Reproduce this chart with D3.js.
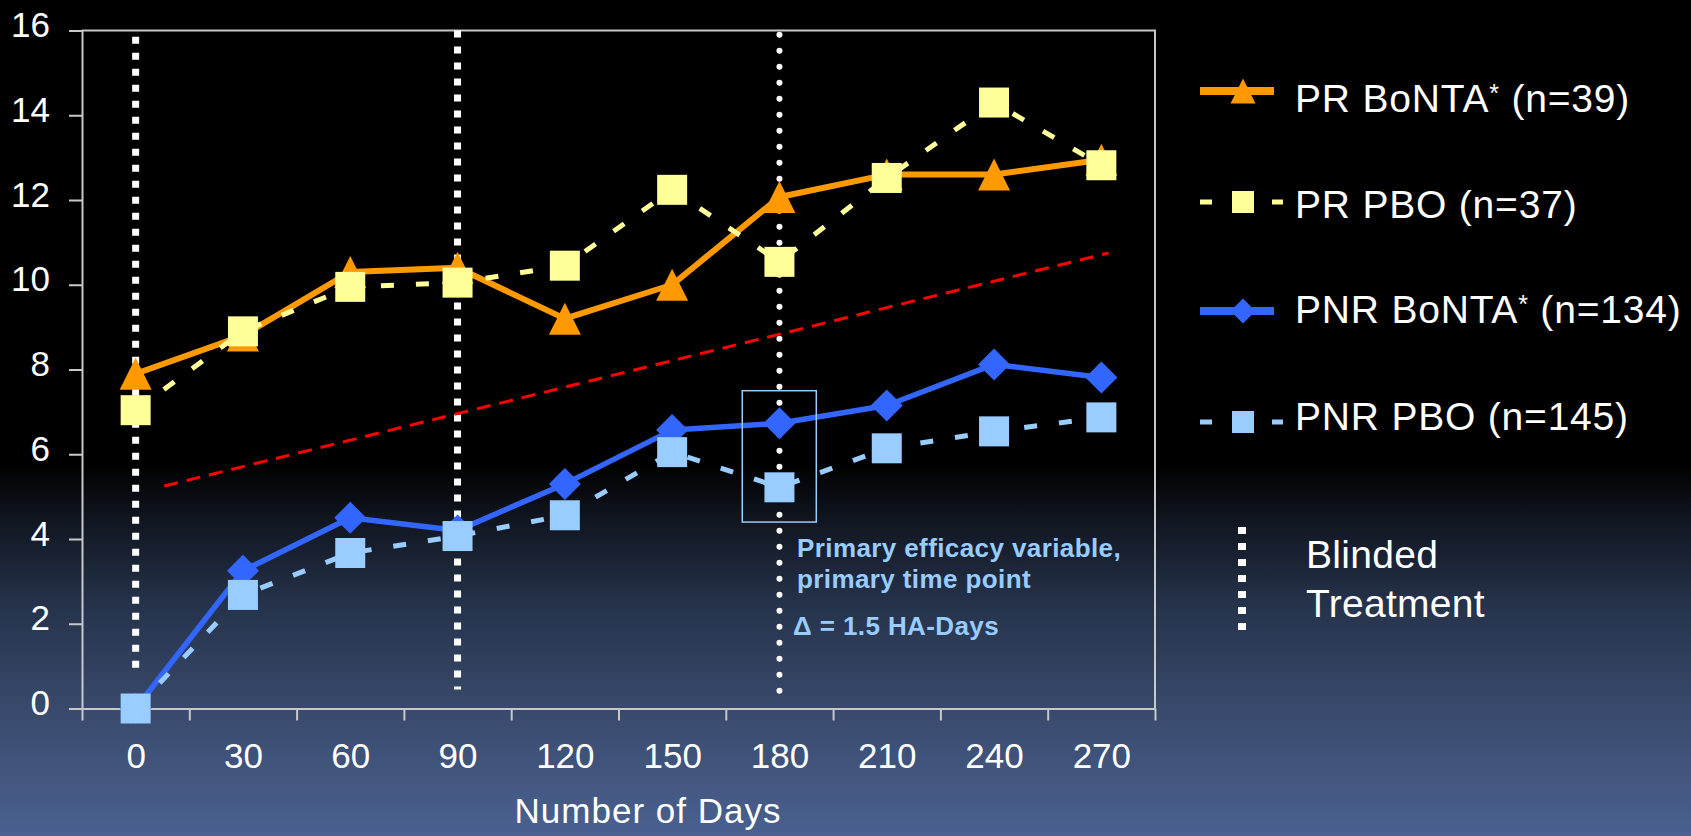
<!DOCTYPE html>
<html><head><meta charset="utf-8">
<script src="https://cdn.jsdelivr.net/npm/d3@7"></script>
<style>html,body{margin:0;padding:0;background:#000;overflow:hidden}svg{display:block}</style>
</head><body>
<svg id="chart" width="1691" height="836"></svg>
<script>
// ---------- data ----------
const days = [0, 30, 60, 90, 120, 150, 180, 210, 240, 270];
const yTicks = [0, 2, 4, 6, 8, 10, 12, 14, 16];
const prBonta  = [7.9, 8.8, 10.3, 10.4, 9.2, 10.0, 12.07, 12.6, 12.6, 12.95];
const prPbo    = [7.04, 8.9, 9.95, 10.05, 10.45, 12.24, 10.54, 12.52, 14.3, 12.82];
const pnrBonta = [0, 3.25, 4.5, 4.2, 5.3, 6.57, 6.73, 7.15, 8.12, 7.81];
const pnrPbo   = [0, 2.68, 3.67, 4.07, 4.56, 6.05, 5.22, 6.14, 6.54, 6.87];
const seriesNames = ["PR BoNTA* (n=39)", "PR PBO (n=37)", "PNR BoNTA* (n=134)", "PNR PBO (n=145)"];
const trendDays = [8, 272];
const trendValues = [5.25, 10.75];
const blindedDays = [0, 90, 180];
const blindedTop = [15.85, 16, 15.9];
const blindedBottom = [0.95, 0.45, 0.35];
const boxDays = [169.6, 190.3];
const boxValues = [4.4, 7.5];
const xTitle = "Number of Days";
const annotationLines = ["Primary efficacy variable,", "primary time point", "Δ = 1.5 HA-Days"];
const blindedLabel = ["Blinded", "Treatment"];

// ---------- setup ----------
const W = 1691, H = 836;
const FONT = "'Liberation Sans', Arial, sans-serif";
const svg = d3.select("#chart");
const defs = svg.append("defs");
const grad = defs.append("linearGradient").attr("id", "bg")
  .attr("x1", 0).attr("y1", 0).attr("x2", 0).attr("y2", 1);
[[0, "#000000"], [0.555, "#000000"], [0.62, "#10151f"], [0.72, "#25324a"],
 [0.85, "#394a6c"], [1, "#4a6190"]].forEach(([o, c]) =>
  grad.append("stop").attr("offset", o).attr("stop-color", c));
svg.append("rect").attr("width", W).attr("height", H).attr("fill", "url(#bg)");

const x = d3.scaleLinear().domain([-15, 285]).range([82, 1155]);
const y = d3.scaleLinear().domain([0, 16]).range([708.5, 30.5]);
const AX = "#c8c8c8";

// frame (top + right)
svg.append("path")
  .attr("d", `M${x(-15)},${y(16)}H${x(285)}V${y(0)}`)
  .attr("fill", "none").attr("stroke", AX).attr("stroke-width", 2);

// y axis
const yAxis = svg.append("g").attr("transform", `translate(${x(-15)},0)`)
  .call(d3.axisLeft(y).tickValues(yTicks).tickSize(13).tickSizeOuter(0).tickPadding(19));
yAxis.select(".domain").attr("stroke", AX).attr("stroke-width", 2);
yAxis.selectAll(".tick line").attr("stroke", AX).attr("stroke-width", 2);
yAxis.selectAll(".tick text").attr("fill", "#fff").attr("font-size", 35)
  .attr("font-family", FONT).attr("dy", "6px");

// x axis: tick marks at band boundaries
const xTickAxis = svg.append("g").attr("transform", `translate(0,${y(0)})`)
  .call(d3.axisBottom(x).tickValues(d3.range(-15, 286, 30)).tickSize(12).tickSizeOuter(0).tickFormat(""));
xTickAxis.select(".domain").attr("stroke", AX).attr("stroke-width", 2);
xTickAxis.selectAll(".tick line").attr("stroke", AX).attr("stroke-width", 2);
// x labels
const xLab = svg.append("g").attr("transform", `translate(0,${y(0)})`)
  .call(d3.axisBottom(x).tickValues(days).tickSize(0).tickFormat(d => d));
xLab.select(".domain").remove();
xLab.selectAll(".tick text").attr("fill", "#fff").attr("font-size", 35)
  .attr("font-family", FONT).attr("y", 59.5).attr("dy", 0);

// x title
svg.append("text").attr("x", 648).attr("y", 823).attr("text-anchor", "middle")
  .attr("fill", "#fff").attr("font-size", 35).attr("letter-spacing", 1)
  .attr("font-family", FONT).text(xTitle);

// blinded treatment dotted lines
blindedDays.forEach((d, i) => {
  const ln = svg.append("line")
    .attr("x1", x(d)).attr("x2", x(d))
    .attr("y1", y(blindedTop[i])).attr("y2", y(blindedBottom[i]))
    .attr("stroke", "#fff");
  if (i < 2) ln.attr("stroke-width", 7).attr("stroke-dasharray", "7 9");
  else ln.attr("stroke-width", 6).attr("stroke-linecap", "round").attr("stroke-dasharray", "0 16");
});

// red trend line
svg.append("path")
  .datum(trendDays.map((d, i) => [d, trendValues[i]]))
  .attr("d", d3.line().x(d => x(d[0])).y(d => y(d[1])))
  .attr("fill", "none").attr("stroke", "#ff0000").attr("stroke-width", 3)
  .attr("stroke-dasharray", "14 9");

// markers
const shapes = {
  triangle: s => `M0,${-s/2}L${s/2},${s/2}L${-s/2},${s/2}Z`,
  square: s => `M${-s/2},${-s/2}h${s}v${s}h${-s}Z`,
  diamond: s => `M0,${-s/2}L${s/2},0L0,${s/2}L${-s/2},0Z`
};
const styles = [
  {vals: prBonta, color: "#ff9900", width: 6, dash: null, shape: "triangle", size: 32},
  {vals: prPbo, color: "#ffff99", width: 5, dash: "13 22", shape: "square", size: 30},
  {vals: pnrBonta, color: "#3366ff", width: 5.5, dash: null, shape: "diamond", size: 32},
  {vals: pnrPbo, color: "#99ccff", width: 5, dash: "13 22", shape: "square", size: 30}
];
const drawOrder = [2, 3, 0, 1];
drawOrder.forEach(k => {
  const s = styles[k];
  const pts = days.map((d, i) => [d, s.vals[i]]);
  const g = svg.append("g");
  const p = g.append("path").datum(pts)
    .attr("d", d3.line().x(d => x(d[0])).y(d => y(d[1])))
    .attr("fill", "none").attr("stroke", s.color).attr("stroke-width", s.width)
    .attr("stroke-linejoin", "round");
  if (s.dash) p.attr("stroke-dasharray", s.dash);
  g.selectAll("path.m").data(pts).join("path").attr("class", "m")
    .attr("transform", d => `translate(${x(d[0])},${y(d[1])})`)
    .attr("d", shapes[s.shape](s.size)).attr("fill", s.color);
});

// annotation box
svg.append("rect")
  .attr("x", x(boxDays[0])).attr("y", y(boxValues[1]))
  .attr("width", x(boxDays[1]) - x(boxDays[0])).attr("height", y(boxValues[0]) - y(boxValues[1]))
  .attr("fill", "none").attr("stroke", "#99ccff").attr("stroke-width", 1.5);
const annY = [557, 588, 635];
annotationLines.forEach((t, i) => {
  svg.append("text").attr("x", i === 2 ? 793 : 797).attr("y", annY[i])
    .attr("fill", "#99ccff").attr("font-size", 26).attr("font-weight", "bold")
    .attr("font-family", "'Liberation Sans Narrow', 'Liberation Sans', Arial, sans-serif")
    .attr("letter-spacing", 0.4).text(t);
});

// legend
const legMarkY = [91, 202, 311, 422];
const legTextY = [112, 218, 323, 430];
styles.forEach((s, i) => {
  const g = svg.append("g");
  if (s.dash) {
    g.append("line").attr("x1", 1200).attr("x2", 1283).attr("y1", legMarkY[i]).attr("y2", legMarkY[i])
      .attr("stroke", s.color).attr("stroke-width", 5).attr("stroke-dasharray", "12 60 11");
  } else {
    g.append("line").attr("x1", 1200).attr("x2", 1274).attr("y1", legMarkY[i]).attr("y2", legMarkY[i])
      .attr("stroke", s.color).attr("stroke-width", 8);
  }
  g.append("path").attr("transform", `translate(1243,${legMarkY[i]})`)
    .attr("d", shapes[s.shape](s.shape === "square" ? 22 : 25)).attr("fill", s.color);
  const parts = seriesNames[i].split("*");
  const t = g.append("text").attr("x", 1295).attr("y", legTextY[i])
    .attr("fill", "#fff").attr("font-size", 39).attr("letter-spacing", 0.8).attr("font-family", FONT);
  t.append("tspan").text(parts[0]);
  if (parts.length > 1) {
    t.append("tspan").attr("font-size", 25).attr("dy", -10).text("*");
    t.append("tspan").attr("dy", 10).text(parts[1]);
  }
});

// blinded treatment legend
svg.append("line").attr("x1", 1242).attr("x2", 1242).attr("y1", 527).attr("y2", 634)
  .attr("stroke", "#fff").attr("stroke-width", 8).attr("stroke-dasharray", "7 9");
blindedLabel.forEach((t, i) => {
  svg.append("text").attr("x", 1306).attr("y", 568 + i * 49)
    .attr("fill", "#fff").attr("font-size", 39).attr("letter-spacing", 0.3).attr("font-family", FONT).text(t);
});
</script>
</body></html>
